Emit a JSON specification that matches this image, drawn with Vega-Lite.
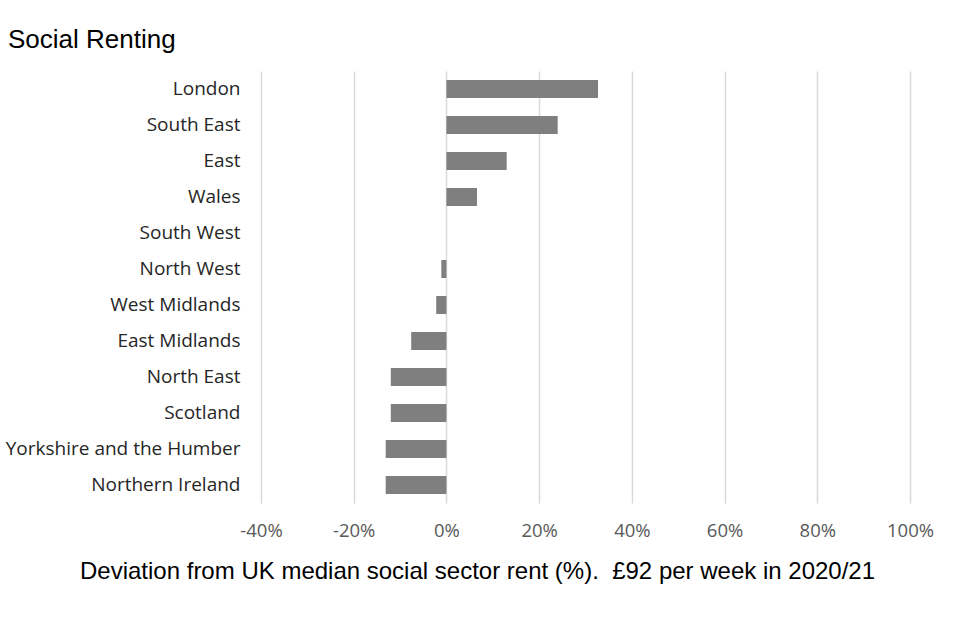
{
  "$schema": "https://vega.github.io/schema/vega-lite/v6.json",
  "autosize": "none",
  "width": 649,
  "height": 432,
  "padding": {"left": 261, "top": 71, "right": 50, "bottom": 137},
  "background": "white",
  "title": {
    "text": "Social Renting",
    "anchor": "start",
    "frame": "group",
    "dx": -253,
    "offset": 18,
    "font": "Liberation Sans",
    "fontSize": 26,
    "fontWeight": "normal",
    "color": "#000000"
  },
  "data": {
    "values": [
      {"region": "London", "deviation": 32.7},
      {"region": "South East", "deviation": 24.0},
      {"region": "East", "deviation": 13.0},
      {"region": "Wales", "deviation": 6.6},
      {"region": "South West", "deviation": 0.0},
      {"region": "North West", "deviation": -1.1},
      {"region": "West Midlands", "deviation": -2.2},
      {"region": "East Midlands", "deviation": -7.6},
      {"region": "North East", "deviation": -12.0},
      {"region": "Scotland", "deviation": -12.0},
      {"region": "Yorkshire and the Humber", "deviation": -13.1},
      {"region": "Northern Ireland", "deviation": -13.1}
    ]
  },
  "config": {"view": {"stroke": null}},
  "mark": {"type": "bar", "color": "#7f7f7f"},
  "encoding": {
    "y": {
      "field": "region",
      "type": "nominal",
      "sort": null,
      "scale": {"paddingInner": 0.5, "paddingOuter": 0.25},
      "axis": {
        "title": null,
        "domain": false,
        "ticks": false,
        "grid": false,
        "labelFont": "Open Sans",
        "labelFontSize": 19,
        "labelColor": "#262626",
        "labelPadding": 21,
        "labelLimit": 300
      }
    },
    "x": {
      "field": "deviation",
      "type": "quantitative",
      "scale": {"domain": [-40, 100], "nice": false, "zero": false},
      "axis": {
        "values": [-40, -20, 0, 20, 40, 60, 80, 100],
        "labelExpr": "datum.value + '%'",
        "labelFlush": false,
        "domain": false,
        "ticks": false,
        "grid": true,
        "gridColor": "#d9d9d9",
        "gridWidth": 1.5,
        "labelFont": "Open Sans",
        "labelFontSize": 18.5,
        "labelColor": "#595959",
        "labelPadding": 18,
        "title": "Deviation from UK median social sector rent (%).\u00a0 £92 per week in 2020/21",
        "titleFont": "Liberation Sans",
        "titleFontSize": 24,
        "titleFontWeight": "normal",
        "titleColor": "#000000",
        "titleX": 216,
        "titleY": 75,
        "titleAlign": "center",
        "titleBaseline": "alphabetic"
      }
    }
  }
}
